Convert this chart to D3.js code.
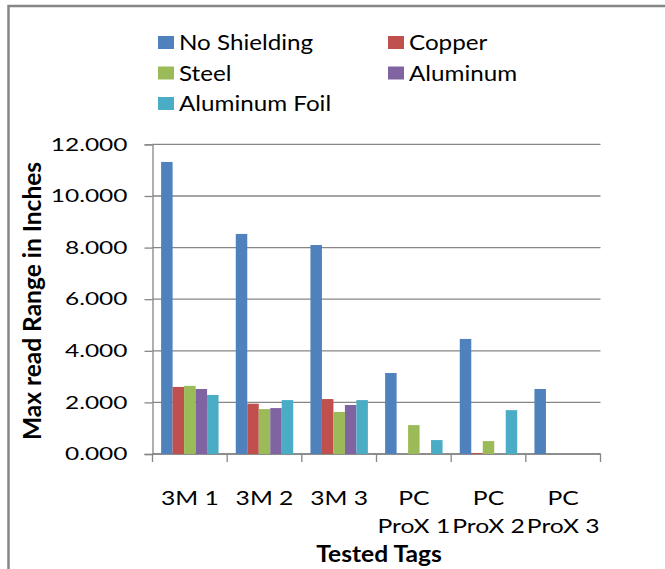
<!DOCTYPE html>
<html>
<head>
<meta charset="utf-8">
<script src="https://cdn.jsdelivr.net/npm/d3@7"></script>
<style>
  html, body { margin: 0; padding: 0; background: #fff; }
  svg text { font-family: Lato, "Open Sans", "Liberation Sans", sans-serif; fill: #000; }
</style>
</head>
<body>
<svg id="chart" width="665" height="569"></svg>
<script>
// Tags under test and the shielding materials tried on each
const categories = ["3M 1", "3M 2", "3M 3", "PC ProX 1", "PC ProX 2", "PC ProX 3"];
const seriesNames = ["No Shielding", "Copper", "Steel", "Aluminum", "Aluminum Foil"];
const seriesColors = ["#4F81BD", "#C0504D", "#9BBB59", "#8064A2", "#4BACC6"];

// Max read range (inches) per tag, one array per shielding material
const noShielding  = [11.32, 8.53, 8.10, 3.14, 4.46, 2.52];
const copper       = [2.60, 1.95, 2.13, 0.00, 0.04, 0.00];
const steel        = [2.64, 1.74, 1.63, 1.12, 0.50, 0.00];
const aluminum     = [2.52, 1.78, 1.90, 0.00, 0.00, 0.00];
const aluminumFoil = [2.29, 2.09, 2.09, 0.54, 1.70, 0.00];
const seriesValues = [noShielding, copper, steel, aluminum, aluminumFoil];

const yTicks = [0, 2, 4, 6, 8, 10, 12];

const svg = d3.select("#chart");
const grey = "#868686";

// The text in this chart is set slightly wide; widen glyphs horizontally
const wide = (px, py, sx) => `translate(${px},${py}) scale(${sx},1)`;

// Frame around the chart area
svg.append("rect")
  .attr("x", 8.5).attr("y", 6)
  .attr("width", 700).attr("height", 600)
  .attr("fill", "none").attr("stroke", grey).attr("stroke-width", 2.5);

const plot = { left: 152.5, right: 600.5, top: 144.4, bottom: 454 };

const x = d3.scaleBand().domain(categories).range([plot.left, plot.right]).paddingInner(0).paddingOuter(0);
const gap = 1.5; // gap between groups, as a fraction of one bar
const x1 = d3.scaleBand().domain(seriesNames)
  .range([0, x.bandwidth()])
  .paddingInner(0)
  .paddingOuter(gap / 2);
const y = d3.scaleLinear().domain([0, 12]).range([plot.bottom, plot.top]);

// Horizontal gridlines
svg.append("g")
  .selectAll("line")
  .data(yTicks)
  .join("line")
  .attr("x1", plot.left).attr("x2", plot.right)
  .attr("y1", d => y(d)).attr("y2", d => y(d))
  .attr("stroke", grey).attr("stroke-width", 1.3);

// Y axis with value labels
const yAxis = svg.append("g")
  .attr("transform", `translate(${plot.left},0)`)
  .call(d3.axisLeft(y).tickValues(yTicks).tickSize(8).tickPadding(17).tickFormat(d3.format(".3f")));
yAxis.select(".domain").attr("stroke", grey).attr("stroke-width", 1.3);
yAxis.selectAll(".tick line").attr("stroke", grey).attr("stroke-width", 1.3);
yAxis.selectAll(".tick text")
  .attr("x", 0)
  .attr("transform", wide(-25, 0, 1.36))
  .style("font-size", "18px")
  .attr("fill", "#000");

// X axis with category boundary ticks
const xAxisG = svg.append("g").attr("transform", `translate(0,${plot.bottom})`);
xAxisG.append("line")
  .attr("x1", plot.left).attr("x2", plot.right)
  .attr("stroke", grey).attr("stroke-width", 1.3);
const boundaries = categories.map(c => x(c)).concat([plot.right]);
xAxisG.selectAll("line.bound")
  .data(boundaries)
  .join("line")
  .attr("class", "bound")
  .attr("x1", d => d).attr("x2", d => d)
  .attr("y1", 0).attr("y2", 8)
  .attr("stroke", grey).attr("stroke-width", 1.3);

// Category labels, wrapped onto two lines where Excel wraps them
const catLabels = xAxisG.selectAll("text.cat")
  .data(categories)
  .join("text")
  .attr("class", "cat")
  .attr("text-anchor", "middle")
  .attr("transform", d => wide(x(d) + x.bandwidth() / 2, 51, 1.3))
  .style("font-size", "19px");
catLabels.each(function (d) {
  const words = d.startsWith("PC ") ? ["PC", d.slice(3)] : [d];
  d3.select(this).selectAll("tspan")
    .data(words)
    .join("tspan")
    .attr("x", 0)
    .attr("dy", (w, i) => i === 0 ? 0 : 28)
    .text(w => w);
});

// Bars
const groups = svg.append("g")
  .selectAll("g")
  .data(categories)
  .join("g")
  .attr("transform", c => `translate(${x(c)},0)`);
groups.selectAll("rect")
  .data((c, ci) => seriesNames.map((s, si) => ({ s, si, v: seriesValues[si][ci] })))
  .join("rect")
  .attr("x", d => x1(d.s))
  .attr("width", x1.bandwidth())
  .attr("y", d => y(d.v))
  .attr("height", d => y(0) - y(d.v))
  .attr("fill", d => seriesColors[d.si]);

// Axis titles
svg.append("text")
  .attr("transform", "translate(31,301) rotate(-90)")
  .attr("text-anchor", "middle")
  .attr("dominant-baseline", "central")
  .style("font-size", "24.5px")
  .style("font-weight", "bold")
  .text("Max read Range in Inches");

svg.append("text")
  .attr("transform", wide(379, 562, 1.12))
  .attr("text-anchor", "middle")
  .style("font-size", "22px")
  .style("font-weight", "bold")
  .text("Tested Tags");

// Legend: two columns, filled row by row
const legend = svg.append("g");
const legendItems = legend.selectAll("g")
  .data(seriesNames)
  .join("g")
  .attr("transform", (d, i) => `translate(${i % 2 === 0 ? 158 : 388},${50 + Math.floor(i / 2) * 30.5})`);
legendItems.append("rect")
  .attr("x", 0).attr("y", -14)
  .attr("width", 16).attr("height", 13)
  .attr("fill", (d, i) => seriesColors[i]);
legendItems.append("text")
  .attr("transform", wide(21, 0, 1.1))
  .style("font-size", "22px")
  .text(d => d);
</script>
</body>
</html>
